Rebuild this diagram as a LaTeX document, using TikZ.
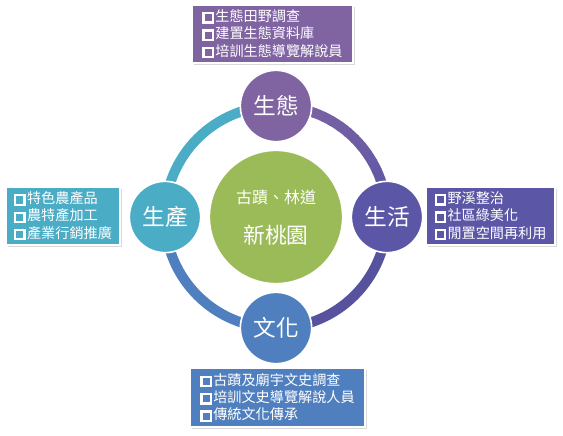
\documentclass[tikz,border=0pt]{standalone}
\usepackage{fontspec}
\setmainfont{Noto Sans CJK TC}
\usetikzlibrary{shadows}
\definecolor{cPurple}{HTML}{8064A2}
\definecolor{cIndigo}{HTML}{5C56A6}
\definecolor{cBlue}{HTML}{4F7FBE}
\definecolor{cTeal}{HTML}{4BACC6}
\definecolor{cGreen}{HTML}{9BBB59}
\newcommand\cbx{\makebox[0.92em][l]{\raisebox{0.0em}{\setlength\fboxsep{0pt}\setlength\fboxrule{1.7pt}\fbox{\rule{0pt}{0.5em}\hspace{0.5em}}}}}
\begin{document}
\begin{tikzpicture}[x=0.75pt,y=-0.75pt,
  infobox/.style={rectangle, draw=white, line width=0.8pt, text=white, align=left,
    inner sep=0pt, font=\fontsize{10.6}{13}\selectfont,
    drop shadow={shadow xshift=1.2pt, shadow yshift=-1.5pt, opacity=0.3}},
  topic/.style={circle, draw=white, line width=1.2pt, minimum size=53.5pt, inner sep=0pt,
    text=white, font=\fontsize{17}{20}\selectfont},
  ring/.style={line width=7.5pt, line cap=butt}]
\useasboundingbox (0,0) rectangle (563,435);
\coordinate (O) at (276,217);
% ring arcs
\draw[ring, cTeal] ([shift={(180:111)}]O) arc[start angle=180, end angle=270, radius=111];
\foreach \i in {0,...,17}{
  \pgfmathsetmacro\p{100-\i*100/17}
  \draw[ring, color=cPurple!\p!cIndigo] ([shift={(270+\i*5:111)}]O) arc[start angle=270+\i*5, end angle=275.6+\i*5, radius=111];
}
\draw[ring, cIndigo!95!black] ([shift={(0:111)}]O) arc[start angle=0, end angle=90, radius=111];
\draw[ring, cBlue] ([shift={(90:111)}]O) arc[start angle=90, end angle=180, radius=111];
% center
\node[circle, fill=cGreen, draw=white, line width=1pt, minimum size=99.75pt] (center) at (O) {};
\node[text=white, font=\fontsize{12}{14}\selectfont] (sub) at (276,197) {古蹟、林道};
\node[text=white, font=\fontsize{16.3}{18}\selectfont] (main) at (276,235) {新桃園};
% topic circles
\node[topic, fill=cPurple] (eco) at (276,106) {生態};
\node[topic, fill=cIndigo] (life) at (387,217) {生活};
\node[topic, fill=cBlue] (cul) at (276,328) {文化};
\node[topic, fill=cTeal] (prod) at (165,217) {生產};
% boxes
\node[infobox, fill=cPurple, minimum width=120.75pt, minimum height=43.5pt] (ecobox) at (272.5,34)
  {\cbx 生態田野調查\\ \cbx 建置生態資料庫\\ \cbx 培訓生態導覽解說員};
\node[infobox, fill=cTeal, minimum width=85.5pt, minimum height=43.5pt] (prodbox) at (63,216)
  {\cbx 特色農產品\\ \cbx 農特產加工\\ \cbx 產業行銷推廣};
\node[infobox, fill=cIndigo, minimum width=96.75pt, minimum height=43.5pt] (lifebox) at (490.5,216)
  {\cbx 野溪整治\\ \cbx 社區綠美化\\ \cbx 閒置空間再利用};
\node[infobox, fill=cBlue, minimum width=131.25pt, minimum height=44.25pt] (culbox) at (277.5,397.5)
  {\cbx 古蹟及廟宇文史調查\\ \cbx 培訓文史導覽解說人員\\ \cbx 傳統文化傳承};
\end{tikzpicture}
\end{document}
